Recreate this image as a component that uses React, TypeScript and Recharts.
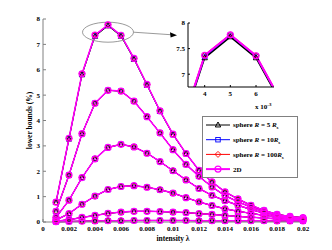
import React from "react";
import {
  CartesianGrid,
  Legend,
  Line,
  LineChart,
  ReferenceDot,
  XAxis,
  YAxis,
} from "recharts";

const SERIF = "'Liberation Serif', 'DejaVu Serif', serif";

const intensity = [
  0.001, 0.002, 0.003, 0.004, 0.005, 0.006, 0.007, 0.008, 0.009, 0.01,
  0.011, 0.012, 0.013, 0.014, 0.015, 0.016, 0.017, 0.018, 0.019, 0.02,
];
const xTicks = [0, 0.002, 0.004, 0.006, 0.008, 0.01, 0.012, 0.014, 0.016, 0.018, 0.02];
const yTicks = [0, 1, 2, 3, 4, 5, 6, 7, 8];
const insetXTicks = [0.004, 0.005, 0.006];
const insetYTicks = [7, 7.5, 8];

// highest curve, the only one where the four models separate a little
const curveA5R = [0.77, 3.27, 5.8, 7.32, 7.73, 7.32, 6.41, 5.39, 4.36, 3.44, 2.69, 2.03, 1.57, 1.18, 0.9, 0.65, 0.45, 0.3, 0.22, 0.17];
const curveA10R = [0.78, 3.29, 5.83, 7.35, 7.76, 7.35, 6.44, 5.41, 4.37, 3.45, 2.7, 2.04, 1.58, 1.19, 0.91, 0.66, 0.46, 0.3, 0.22, 0.17];
const curveA100R = [0.78, 3.3, 5.84, 7.37, 7.77, 7.36, 6.45, 5.42, 4.38, 3.46, 2.7, 2.04, 1.58, 1.19, 0.91, 0.66, 0.46, 0.3, 0.22, 0.17];
const curveA2D = [0.78, 3.3, 5.84, 7.37, 7.77, 7.36, 6.45, 5.42, 4.38, 3.46, 2.7, 2.04, 1.58, 1.19, 0.91, 0.66, 0.46, 0.3, 0.22, 0.17];
// lower curves: all four models overlap
const curveB = [0.42, 1.85, 3.48, 4.68, 5.19, 5.16, 4.76, 4.15, 3.51, 2.85, 2.27, 1.8, 1.38, 1.04, 0.8, 0.58, 0.41, 0.27, 0.19, 0.14];
const curveC = [0.18, 0.86, 1.75, 2.49, 2.94, 3.06, 2.96, 2.71, 2.38, 2.02, 1.66, 1.32, 1.05, 0.84, 0.66, 0.49, 0.35, 0.23, 0.16, 0.12];
const curveD = [0.08, 0.33, 0.7, 1.02, 1.28, 1.4, 1.43, 1.37, 1.27, 1.14, 0.96, 0.79, 0.65, 0.52, 0.42, 0.34, 0.26, 0.18, 0.13, 0.1];
const curveE = [0.03, 0.09, 0.18, 0.26, 0.34, 0.39, 0.42, 0.42, 0.41, 0.39, 0.37, 0.33, 0.3, 0.26, 0.22, 0.19, 0.16, 0.12, 0.1, 0.08];
const curveF = [0.01, 0.02, 0.03, 0.04, 0.05, 0.05, 0.06, 0.06, 0.06, 0.06, 0.06, 0.05, 0.05, 0.05, 0.05, 0.05, 0.05, 0.04, 0.04, 0.04];

const radiusLabels = ["5 ", "10", "100"];

type Kind = "tri" | "sq" | "dia" | "circ";

const models: {
  key: string;
  color: string;
  kind: Kind;
  width: number;
  curves: number[][];
}[] = [
  { key: "s5", color: "#000000", kind: "tri", width: 1, curves: [curveA5R, curveB, curveC, curveD, curveE, curveF] },
  { key: "s10", color: "#0000ff", kind: "sq", width: 1, curves: [curveA10R, curveB, curveC, curveD, curveE, curveF] },
  { key: "s100", color: "#ff0000", kind: "dia", width: 1, curves: [curveA100R, curveB, curveC, curveD, curveE, curveF] },
  { key: "d2", color: "#ff00ff", kind: "circ", width: 1.5, curves: [curveA2D, curveB, curveC, curveD, curveE, curveF] },
];

const rows = intensity.map((x, i) => {
  const r: Record<string, number> = { x };
  models.forEach((m) => m.curves.forEach((c, j) => (r[`${m.key}_${j}`] = c[i])));
  return r;
});

function Marker({ kind, cx, cy, color, s }: { kind: Kind; cx?: number; cy?: number; color: string; s: number }) {
  if (cx == null || cy == null) return null;
  if (kind === "tri")
    return (
      <path
        d={`M${cx},${cy - s}L${cx + s * 0.9},${cy + s * 0.65}L${cx - s * 0.9},${cy + s * 0.65}Z`}
        fill="none"
        stroke={color}
        strokeWidth={1}
      />
    );
  if (kind === "sq")
    return (
      <rect x={cx - s * 0.75} y={cy - s * 0.75} width={s * 1.5} height={s * 1.5} fill="none" stroke={color} strokeWidth={0.9} />
    );
  if (kind === "dia")
    return (
      <path d={`M${cx},${cy - s}L${cx + s},${cy}L${cx},${cy + s}L${cx - s},${cy}Z`} fill="none" stroke={color} strokeWidth={0.9} />
    );
  return <circle cx={cx} cy={cy} r={s} fill="none" stroke={color} strokeWidth={1.2} />;
}

const dotFor = (kind: Kind, color: string, s: number) => (p: any) => (
  <Marker key={`${p.dataKey}-${p.index}`} kind={kind} cx={p.cx} cy={p.cy} color={color} s={s} />
);

const fmtX = (v: number) => (v === 0 ? "0" : String(Number(v.toFixed(3))));

const tickStyle = { fill: "#000", fontSize: 7, fontWeight: "bold", fontFamily: SERIF };

function ZoomMark(p: any) {
  const { cx, cy } = p;
  if (cx == null) return null;
  return (
    <g>
      <ellipse cx={cx} cy={cy} rx={25.5} ry={10} fill="none" stroke="#808080" strokeWidth={0.8} />
      <line x1={cx + 25.5} y1={cy} x2={cx + 64} y2={cy + 2.6} stroke="#808080" strokeWidth={0.8} />
      <path d={`M${cx + 69},${cy + 3}L${cx + 62},${cy + 0}L${cx + 62.6},${cy + 5.4}Z`} fill="#000" />
    </g>
  );
}

function LegendBox() {
  return (
    <svg width={96} height={62} style={{ display: "block" }}>
      <rect x={0.5} y={0.5} width={95} height={61} fill="#fff" stroke="#808080" strokeWidth={1} />
      {models.map((m, i) => {
        const y = 9 + i * 14.7;
        return (
          <g key={m.key}>
            <line x1={4} x2={28} y1={y} y2={y} stroke={m.color} strokeWidth={m.kind === "circ" ? 2 : 1} />
            <Marker kind={m.kind} cx={16} cy={y} color={m.color} s={3} />
            <text x={31} y={y + 2.4} fontSize={7} fontWeight="bold" fontFamily={SERIF} fill="#000">
              {m.kind === "circ" ? (
                "2D"
              ) : (
                <>
                  {"sphere "}
                  <tspan fontStyle="italic">R</tspan>
                  {` = ${radiusLabels[i]}`}
                  <tspan fontStyle="italic">R</tspan>
                  <tspan fontSize={5} dy={2}>
                    s
                  </tspan>
                </>
              )}
            </text>
          </g>
        );
      })}
    </svg>
  );
}

function InsetExp(p: any) {
  const vb = p.viewBox || {};
  const x = (vb.x ?? 0) + (vb.width ?? 0) - 19;
  const y = (vb.y ?? 0) + 22;
  return (
    <text x={x} y={y} fontSize={7} fontWeight="bold" fontFamily={SERIF} fill="#000">
      x 10
      <tspan fontSize={5} dy={-3}>
        -3
      </tspan>
    </text>
  );
}

export default function App() {
  return (
    <div style={{ position: "absolute", left: 0, top: 0, width: 332, height: 250, background: "#fff" }}>
      <LineChart width={332} height={250} data={rows} margin={{ top: 19, right: 29, bottom: 6, left: 15 }}>
        <XAxis
          dataKey="x"
          type="number"
          domain={[0, 0.02]}
          ticks={xTicks}
          tickFormatter={fmtX}
          tickSize={-3}
          tickMargin={7}
          height={22}
          stroke="#808080"
          tick={tickStyle}
          label={{ value: "intensity λ", position: "insideBottom", offset: 3.5, fill: "#000", fontSize: 7.5, fontWeight: "bold", fontFamily: SERIF }}
        />
        <XAxis xAxisId="top" orientation="top" type="number" domain={[0, 0.02]} ticks={xTicks} tick={false} tickSize={-3} height={0} stroke="#808080" />
        <YAxis
          type="number"
          domain={[0, 8]}
          ticks={yTicks}
          tickSize={-3}
          tickMargin={6}
          width={28}
          stroke="#808080"
          tick={tickStyle}
          label={{ value: "lower bounds (%)", angle: -90, position: "center", fill: "#000", fontSize: 7.5, fontWeight: "bold", fontFamily: SERIF }}
        />
        <YAxis yAxisId="right" orientation="right" type="number" domain={[0, 8]} ticks={yTicks} tick={false} tickSize={-3} width={0} stroke="#808080" />
        {models.map((m) =>
          m.curves.map((_, j) => (
            <Line
              key={`${m.key}_${j}`}
              dataKey={`${m.key}_${j}`}
              stroke={m.color}
              strokeWidth={m.width}
              dot={dotFor(m.kind, m.color, 3)}
              activeDot={false}
              isAnimationActive={false}
              legendType="none"
            />
          ))
        )}
        <ReferenceDot x={0.005} y={7.48} r={0} shape={ZoomMark} />
        <Legend
          content={LegendBox}
          layout="vertical"
          align="center"
          verticalAlign="middle"
          wrapperStyle={{ left: 202, top: 116, width: 96, height: 62 }}
        />
      </LineChart>

      <div style={{ position: "absolute", left: 168, top: 15 }}>
        <LineChart width={115} height={100} data={rows} margin={{ top: 8, right: 9, bottom: 6, left: 6 }}>
          <CartesianGrid horizontal={false} vertical={false} fill="#fff" />
          <XAxis
            dataKey="x"
            type="number"
            domain={[0.00335, 0.0067]}
            allowDataOverflow
            ticks={insetXTicks}
            tickFormatter={(v: number) => String(Math.round(v * 1000))}
            tickSize={-2}
            tickMargin={6}
            height={22}
            stroke="#000"
            tick={tickStyle}
            label={<InsetExp />}
          />
          <XAxis xAxisId="top" orientation="top" type="number" domain={[0.00335, 0.0067]} ticks={insetXTicks} tick={false} tickSize={-2} height={0} stroke="#000" />
          <YAxis type="number" domain={[6.75, 8]} allowDataOverflow ticks={insetYTicks} tickSize={-2} tickMargin={5} width={14} stroke="#000" tick={tickStyle} />
          <YAxis yAxisId="right" orientation="right" type="number" domain={[6.75, 8]} ticks={insetYTicks} tick={false} tickSize={-2} width={0} stroke="#000" />
          {models.map((m) => (
            <Line
              key={m.key}
              dataKey={`${m.key}_0`}
              stroke={m.color}
              strokeWidth={m.kind === "circ" ? 2 : 1.5}
              dot={dotFor(m.kind, m.color, 3)}
              activeDot={false}
              isAnimationActive={false}
            />
          ))}
        </LineChart>
      </div>
    </div>
  );
}
